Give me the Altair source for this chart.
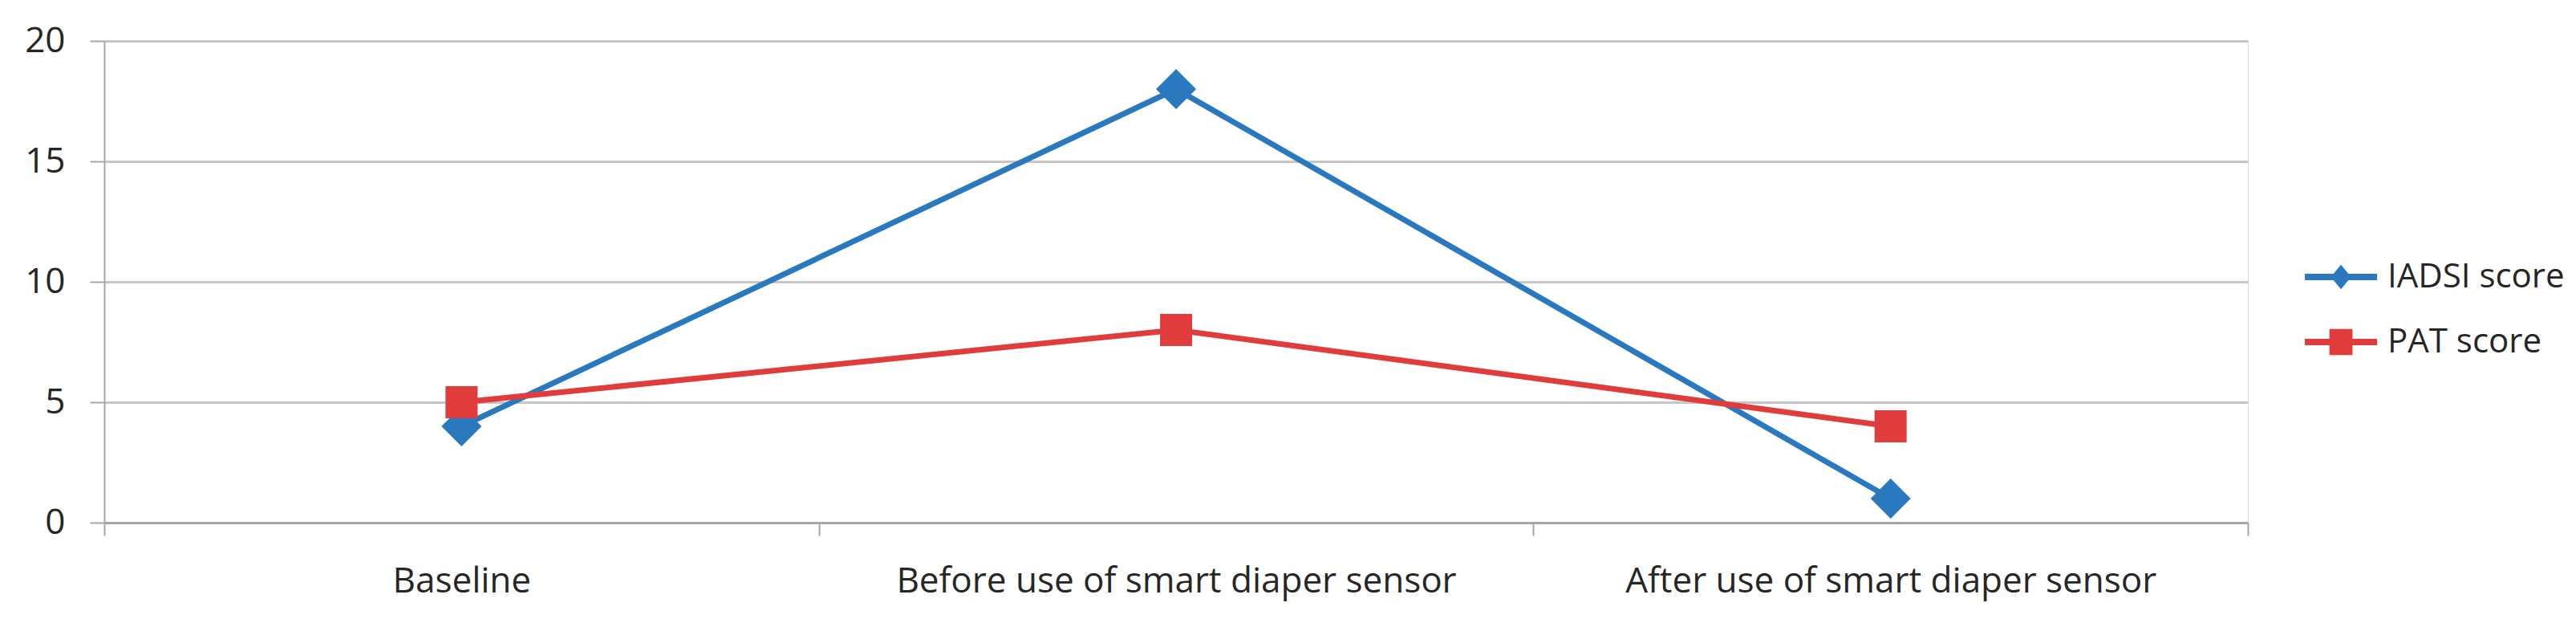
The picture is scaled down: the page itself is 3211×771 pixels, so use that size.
import altair as alt
import pandas as pd

categories = ["Baseline", "Before use of smart diaper sensor", "After use of smart diaper sensor"]
series_names = ["IADSI score", "PAT score"]
iadsi_values = [4, 18, 1]
pat_values = [5, 8, 4]
y_ticks = [0, 5, 10, 15, 20]

colors = ["#2A78BE", "#E03C3C"]
FONT = "Open Sans"
TEXT = "#262626"

rows = []
for c, v in zip(categories, iadsi_values):
    rows.append({"stage": c, "series": series_names[0], "score": v})
for c, v in zip(categories, pat_values):
    rows.append({"stage": c, "series": series_names[1], "score": v})
df = pd.DataFrame(rows)

leg_diamond = "M-1,-0.09H1V0.09H-1Z M0,-0.34L0.28,0L0,0.34L-0.28,0Z"
leg_square = "M-1,-0.09H1V0.09H-1Z M-0.32,-0.36H0.32V0.36H-0.32Z"

x_enc = alt.X(
    "stage:N",
    sort=categories,
    bandPosition=0.5,
    scale=alt.Scale(type="band", paddingInner=0, paddingOuter=0),
    axis=alt.Axis(
        title=None, labelAngle=0, tickBand="extent", grid=False,
        domainColor="#A6A6A6", domainWidth=3, tickColor="#A6A6A6", tickWidth=2,
        tickSize=16, labelPadding=35, labelFont=FONT, labelFontSize=44,
        labelColor=TEXT, labelBaseline="top", labelLimit=0,
    ),
)
y_enc = alt.Y(
    "score:Q",
    scale=alt.Scale(domain=[0, 20], nice=False),
    axis=alt.Axis(
        title=None, values=y_ticks, grid=True, gridColor="#C6C6C6", gridWidth=3,
        domainColor="#A6A6A6", domainWidth=2, tickColor="#A6A6A6", tickWidth=2,
        tickSize=18, labelPadding=31, labelFont=FONT, labelFontSize=44, labelColor=TEXT,
    ),
)
legend = alt.Legend(
    title=None, orient="none", legendX=2743, legendY=249, padding=0,
    labelFont=FONT, labelFontSize=42, labelColor=TEXT, labelOffset=13, labelLimit=0,
    symbolSize=8100, rowPadding=15, symbolStrokeWidth=0, symbolOpacity=1,
    symbolType=leg_diamond,
)
color_enc = alt.Color("series:N", scale=alt.Scale(domain=series_names, range=colors), legend=legend)

base = alt.Chart(df).encode(x=x_enc, y=y_enc, color=color_enc)

lines = base.mark_line(strokeWidth=7).encode(detail="series:N")
diamonds = base.transform_filter(alt.datum.series == series_names[0]).mark_point(
    filled=True, opacity=1, size=2500, shape="diamond"
)
squares = base.transform_filter(alt.datum.series == series_names[1]).mark_point(
    filled=True, opacity=1, size=1600, shape="square"
)
legend_layer = base.mark_point(filled=True, opacity=0, size=10).encode(
    shape=alt.Shape("series:N", scale=alt.Scale(domain=series_names, range=[leg_diamond, leg_square]), legend=legend),
)

chart = alt.layer(lines, diamonds, squares, legend_layer).properties(
    width=2672, height=600,
    autosize=alt.AutoSizeParams(type="none"),
    padding={"left": 122, "top": 43, "right": 401, "bottom": 110},
).configure_view(stroke=None).configure(background="white")

chart.save("out.html", embed_options={"renderer": "svg", "actions": False})
